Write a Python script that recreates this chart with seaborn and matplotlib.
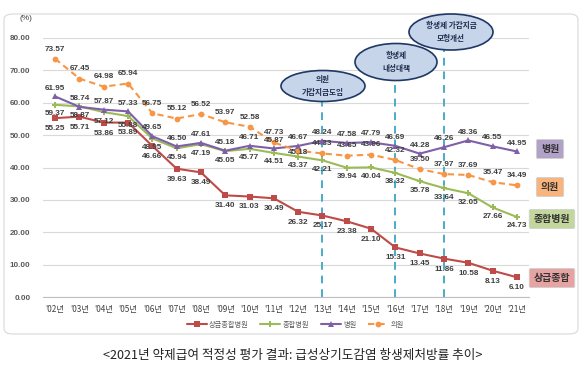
import matplotlib
matplotlib.use("Agg")
import matplotlib.pyplot as plt
from matplotlib.patches import Ellipse, FancyBboxPatch
import seaborn as sns
import pandas as pd

years = ["'02년", "'03년", "'04년", "'05년", "'06년", "'07년", "'08년", "'09년", "'10년", "'11년",
         "'12년", "'13년", "'14년", "'15년", "'16년", "'17년", "'18년", "'19년", "'20년", "'21년"]

tertiary = [55.25, 55.71, 53.86, 53.89, 46.66, 39.63, 38.49, 31.40, 31.03, 30.49,
            26.32, 25.17, 23.38, 21.10, 15.31, 13.45, 11.86, 10.58, 8.13, 6.10]
general = [59.37, 58.87, 57.12, 55.88, 48.95, 45.94, 47.19, 45.05, 45.77, 44.51,
           43.37, 42.21, 39.94, 40.04, 38.32, 35.78, 33.64, 32.05, 27.66, 24.73]
hospital = [61.95, 58.74, 57.87, 57.33, 49.65, 46.50, 47.61, 45.18, 46.71, 45.87,
            46.67, 48.24, 47.58, 47.79, 46.69, 44.28, 46.26, 48.36, 46.55, 44.95]
clinic = [73.57, 67.45, 64.98, 65.94, 56.75, 55.12, 56.52, 53.97, 52.58, 47.73,
          45.18, 44.33, 43.65, 43.96, 42.32, 39.50, 37.97, 37.69, 35.47, 34.49]

series_names = ["상급종합병원", "종합병원", "병원", "의원"]
series_values = [tertiary, general, hospital, clinic]
colors = ["#BE4B48", "#9BBB59", "#7F5FA8", "#F79646"]

# policy events: (year index, text)
events = [(11, "의원\n가감지급도입"), (14, "항생제\n내성대책"), (16, "항생제 가감지급\n모형개선")]

sns.set_style("white")
plt.rcParams["font.family"] = ["Noto Sans CJK KR", "DejaVu Sans"]

rows = []
for name, vals in zip(series_names, series_values):
    for i, v in enumerate(vals):
        rows.append({"x": i, "value": v, "series": name})
df = pd.DataFrame(rows)

W, H = 582, 372
fig = plt.figure(figsize=(W / 100, H / 100), dpi=100)

def fx(px):
    return px / W

def fy(py):
    return 1 - py / H

# outer rounded frame
frame = FancyBboxPatch((fx(4), fy(334)), fx(574), 320 / H, boxstyle="round,pad=0,rounding_size=0.015",
                       transform=fig.transFigure, facecolor="none", edgecolor="#D9D9D9", lw=0.8, zorder=-10)
fig.patches.append(frame)

ax = fig.add_axes([fx(43), fy(297), fx(529) - fx(43), fy(38) - fy(297)])
ax.set_facecolor("none")

sns.lineplot(data=df, x="x", y="value", hue="series", style="series",
             hue_order=series_names, style_order=series_names,
             palette=dict(zip(series_names, colors)),
             markers={"상급종합병원": "s", "종합병원": "P", "병원": "^", "의원": "o"},
             dashes={"상급종합병원": "", "종합병원": "", "병원": "", "의원": (3, 2)},
             markersize=4.2, linewidth=1.5, markeredgewidth=0, ax=ax, legend=True)

num_font = ["Liberation Sans"]

# data labels
offsets = {"상급종합병원": -7.5, "종합병원": -6.5, "병원": 6, "의원": 7}
for name, vals in zip(series_names, series_values):
    for i, v in enumerate(vals):
        dy = offsets[name]
        if name == "의원" and i == 10:
            dy = -1
        ax.annotate(f"{v:.2f}", (i, v), xytext=(0, dy), textcoords="offset points",
                    ha="center", va="center", fontsize=5.9, color="#3F3F3F", fontweight="bold",
                    family=num_font)

ax.set_xlim(-0.5, len(years) - 0.5)
ax.set_ylim(0, 80)
ax.set_yticks(range(0, 81, 10))
ax.set_yticklabels([f"{t:.2f}" for t in range(0, 81, 10)], fontsize=5.8, color="#595959",
                   fontweight="bold", family=num_font)
ax.set_xticks(range(len(years)))
ax.set_xticklabels(years, fontsize=5.9, color="#404040")
ax.set_xticks([i + 0.5 for i in range(-1, len(years))], minor=True)
ax.tick_params(axis="x", which="major", length=0, pad=6)
ax.tick_params(axis="x", which="minor", length=3, color="#BFBFBF", width=0.6)
ax.tick_params(axis="y", length=0, pad=9)
ax.grid(axis="y", color="#D9D9D9", lw=0.8)
ax.set_xlabel("")
ax.set_ylabel("")
for s in ["top", "right", "left"]:
    ax.spines[s].set_visible(False)
ax.spines["bottom"].set_color("#BFBFBF")
ax.spines["bottom"].set_linewidth(0.8)

fig.text(fx(19), fy(18), "(%)", fontsize=6, color="#404040", va="center", family=num_font)

# events: dashed lines and ellipses
ell_geo = [(323, 86, 84, 31), (396, 62, 82, 37), (451, 32, 84, 36)]
for (idx, label), (cx, cy, ew, eh) in zip(events, ell_geo):
    ax.plot([idx, idx], [0, 80 * (297 - (cy + eh / 2)) / 259], color="#4BACC6", lw=1.4,
            ls=(0, (4, 3)), clip_on=False, zorder=1)
    e = Ellipse((fx(cx), fy(cy)), fx(ew), eh / H, transform=fig.transFigure,
                facecolor="#C6D5EA", edgecolor="#1F3864", lw=1.2, zorder=5)
    fig.patches.append(e)
    fig.text(fx(cx), fy(cy), label, ha="center", va="center", fontsize=5.5, fontweight="bold",
             color="#1F2D4D", linespacing=1.7, zorder=6)

# right side series tags
tags = [("병원", 550, 149, "#B3A2C7"), ("의원", 550, 187, "#F9B47E"),
        ("종합병원", 552, 219, "#C3D69B"), ("상급종합", 552, 278, "#E6A3A2")]
for text, tx, ty, fc in tags:
    fig.text(fx(tx), fy(ty), text, ha="center", va="center", fontsize=7.2, fontweight="bold",
             color="#333333",
             bbox=dict(boxstyle="round,pad=0.45,rounding_size=0.15", facecolor=fc, edgecolor="#D0D0D0", lw=0.6))

# legend at bottom
handles, labels = ax.get_legend_handles_labels()
ax.legend_.remove()
fig.legend(handles, labels, loc="center", bbox_to_anchor=(fx(295), fy(325)), ncol=4, frameon=False,
           fontsize=5.2, handlelength=2.8, columnspacing=1.6, handletextpad=0.3,
           labelcolor="#595959")

fig.text(fx(293), fy(355), "<2021년 약제급여 적정성 평가 결과: 급성상기도감염 항생제처방률 추이>",
         ha="center", va="center", fontsize=9.1, color="#222222")

fig.savefig("out.png", dpi=100)
